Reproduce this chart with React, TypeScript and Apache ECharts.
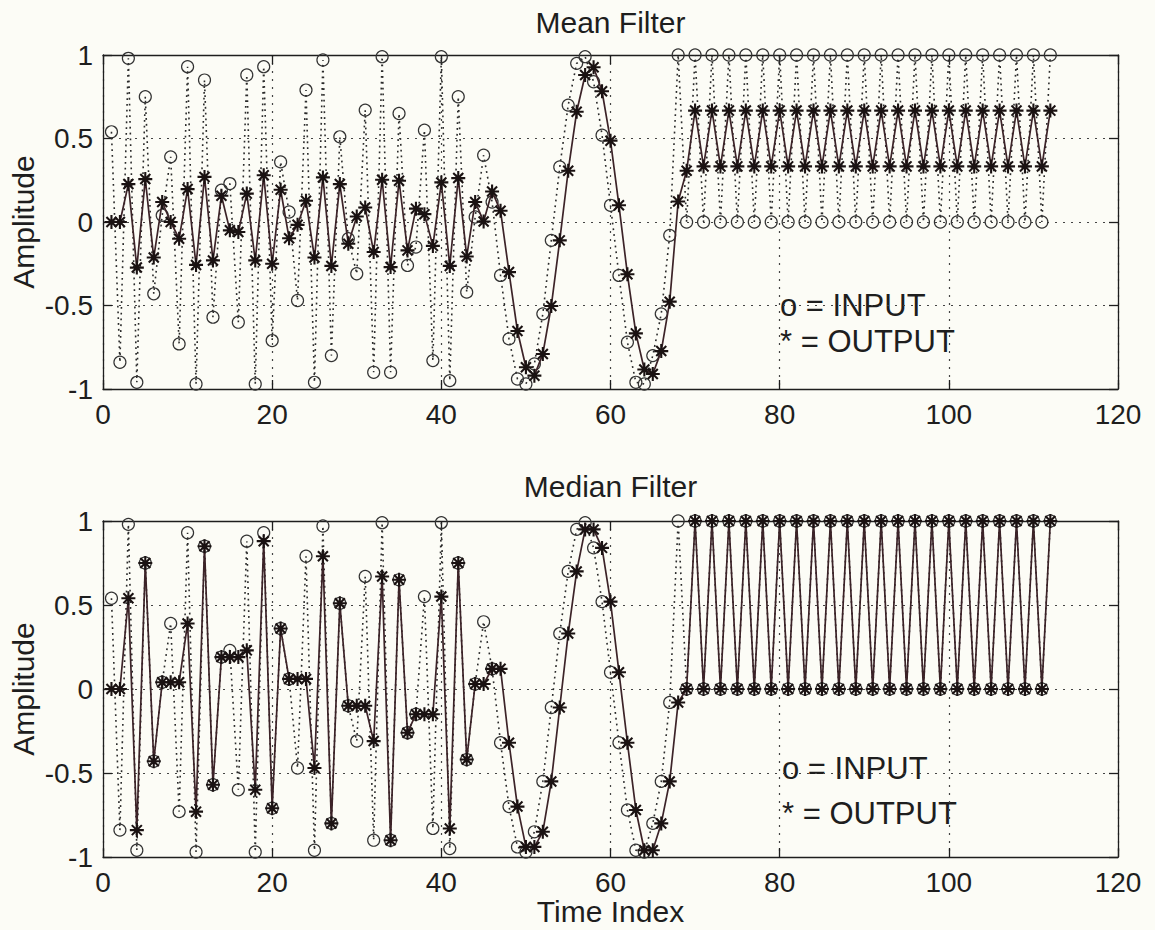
import React, { useEffect, useRef } from "react";
import * as echarts from "echarts";

// ---- data ----
const xTicks = [0, 20, 40, 60, 80, 100, 120];
const yTicks = [-1, -0.5, 0, 0.5, 1];

const inputSignal = [
  0.54, -0.84, 0.98, -0.96, 0.75, -0.43, 0.04, 0.39, -0.73, 0.93,
  -0.97, 0.85, -0.57, 0.19, 0.23, -0.6, 0.88, -0.97, 0.93, -0.71,
  0.36, 0.06, -0.47, 0.79, -0.96, 0.97, -0.8, 0.51, -0.1, -0.31,
  0.67, -0.9, 0.99, -0.9, 0.65, -0.26, -0.15, 0.55, -0.83, 0.99,
  -0.95, 0.75, -0.42, 0.03, 0.4, 0.12, -0.32, -0.7, -0.94, -0.97,
  -0.85, -0.55, -0.11, 0.33, 0.7, 0.95, 0.99, 0.84, 0.52, 0.1,
  -0.32, -0.72, -0.96, -0.97, -0.8, -0.55, -0.08, 1, 0, 1,
  0, 1, 0, 1, 0, 1, 0, 1, 0, 1,
  0, 1, 0, 1, 0, 1, 0, 1, 0, 1,
  0, 1, 0, 1, 0, 1, 0, 1, 0, 1,
  0, 1, 0, 1, 0, 1, 0, 1, 0, 1,
  0, 1,
];

const meanOutput = [
  0, 0, 0.227, -0.273, 0.257, -0.213, 0.12, 0, -0.1, 0.197,
  -0.257, 0.27, -0.23, 0.157, -0.05, -0.06, 0.17, -0.23, 0.28, -0.25,
  0.193, -0.097, -0.017, 0.127, -0.213, 0.267, -0.263, 0.227, -0.13, 0.033,
  0.087, -0.18, 0.253, -0.27, 0.247, -0.17, 0.08, 0.047, -0.143, 0.237,
  -0.263, 0.263, -0.207, 0.12, 0.003, 0.183, 0.067, -0.3, -0.653, -0.87,
  -0.92, -0.79, -0.503, -0.11, 0.307, 0.66, 0.88, 0.927, 0.783, 0.487,
  0.1, -0.313, -0.667, -0.883, -0.91, -0.773, -0.477, 0.123, 0.307, 0.667,
  0.333, 0.667, 0.333, 0.667, 0.333, 0.667, 0.333, 0.667, 0.333, 0.667,
  0.333, 0.667, 0.333, 0.667, 0.333, 0.667, 0.333, 0.667, 0.333, 0.667,
  0.333, 0.667, 0.333, 0.667, 0.333, 0.667, 0.333, 0.667, 0.333, 0.667,
  0.333, 0.667, 0.333, 0.667, 0.333, 0.667, 0.333, 0.667, 0.333, 0.667,
  0.333, 0.667,
];

const medianOutput = [
  0, 0, 0.54, -0.84, 0.75, -0.43, 0.04, 0.04, 0.04, 0.39,
  -0.73, 0.85, -0.57, 0.19, 0.19, 0.19, 0.23, -0.6, 0.88, -0.71,
  0.36, 0.06, 0.06, 0.06, -0.47, 0.79, -0.8, 0.51, -0.1, -0.1,
  -0.1, -0.31, 0.67, -0.9, 0.65, -0.26, -0.15, -0.15, -0.15, 0.55,
  -0.83, 0.75, -0.42, 0.03, 0.03, 0.12, 0.12, -0.32, -0.7, -0.94,
  -0.94, -0.85, -0.55, -0.11, 0.33, 0.7, 0.95, 0.95, 0.84, 0.52,
  0.1, -0.32, -0.72, -0.96, -0.96, -0.8, -0.55, -0.08, 0, 1,
  0, 1, 0, 1, 0, 1, 0, 1, 0, 1,
  0, 1, 0, 1, 0, 1, 0, 1, 0, 1,
  0, 1, 0, 1, 0, 1, 0, 1, 0, 1,
  0, 1, 0, 1, 0, 1, 0, 1, 0, 1,
  0, 1,
];

const titles = ["Mean Filter", "Median Filter"];
const legendTexts = ["o = INPUT", "* = OUTPUT"];

// ---- styling ----
const FONT = '"Liberation Sans", Arial, Helvetica, sans-serif';
const INK = "#1e1e1e";
const BG = "#fcfcf6";
const STAR =
  "path://M8.5 0H11.5V20H8.5Z M0 8.5H20V11.5H0Z M1.8 3.9L3.9 1.8L18.2 16.1L16.1 18.2Z M16.1 1.8L18.2 3.9L3.9 18.2L1.8 16.1Z";

const GRIDS = [
  { left: 103, top: 55, width: 1015, height: 334 },
  { left: 103, top: 521, width: 1015, height: 336 },
];

function toPts(arr: number[]) {
  return arr.map((v, i) => [i + 1, v]);
}

function xAxes(gi: number) {
  const base = {
    gridIndex: gi,
    type: "value",
    min: xTicks[0],
    max: xTicks[xTicks.length - 1],
    interval: xTicks[1] - xTicks[0],
    axisLine: { show: true, onZero: false, lineStyle: { color: INK, width: 1.3 } },
    axisTick: { show: true, inside: true, length: 9, lineStyle: { color: INK, width: 1.3 } },
  };
  return [
    {
      ...base,
      position: "bottom",
      axisLabel: { show: true, fontSize: 28, color: INK, fontFamily: FONT, margin: 11 },
      splitLine: { show: true, lineStyle: { type: [2, 6], color: "#444", width: 1.2 } },
    },
    { ...base, position: "top", axisLabel: { show: false }, splitLine: { show: false } },
  ];
}

function yAxes(gi: number) {
  const base = {
    gridIndex: gi,
    type: "value",
    min: yTicks[0],
    max: yTicks[yTicks.length - 1],
    interval: yTicks[1] - yTicks[0],
    axisLine: { show: true, onZero: false, lineStyle: { color: INK, width: 1.3 } },
    axisTick: { show: true, inside: true, length: 9, lineStyle: { color: INK, width: 1.3 } },
  };
  return [
    {
      ...base,
      position: "left",
      axisLabel: { show: true, fontSize: 28, color: INK, fontFamily: FONT, margin: 10 },
      splitLine: { show: true, lineStyle: { type: [2, 6], color: "#444", width: 1.2 } },
    },
    { ...base, position: "right", axisLabel: { show: false }, splitLine: { show: false } },
  ];
}

function seriesFor(gi: number, out: number[]) {
  return [
    {
      type: "line",
      xAxisIndex: gi * 2,
      yAxisIndex: gi * 2,
      data: toPts(inputSignal),
      symbol: "circle",
      symbolSize: 12,
      itemStyle: { color: "rgba(0,0,0,0)", borderColor: "#333", borderWidth: 1.2 },
      lineStyle: { color: "#2a2a2a", width: 1.6, type: [1.8, 4] },
      clip: false,
      silent: true,
      z: 2,
    },
    {
      type: "line",
      xAxisIndex: gi * 2,
      yAxisIndex: gi * 2,
      data: toPts(out),
      symbol: STAR,
      symbolSize: 14,
      itemStyle: { color: "#1a1212" },
      lineStyle: { color: "#3c2328", width: 1.7 },
      clip: false,
      silent: true,
      z: 3,
    },
  ];
}

function txt(text: string, x: number, y: number, size: number, align = "center", rotation = 0) {
  return {
    type: "text",
    x,
    y,
    rotation,
    silent: true,
    style: {
      text,
      fill: INK,
      font: `${size}px ${FONT}`,
      align,
      verticalAlign: "middle",
    },
  };
}

export default function App() {
  const ref = useRef<HTMLDivElement>(null);
  useEffect(() => {
    if (!ref.current) return;
    const chart = echarts.init(ref.current, null, { renderer: "svg" });
    const g0 = GRIDS[0];
    const g1 = GRIDS[1];
    const cx = g0.left + g0.width / 2;
    const option = {
      animation: false,
      backgroundColor: BG,
      grid: GRIDS,
      xAxis: [...xAxes(0), ...xAxes(1)],
      yAxis: [...yAxes(0), ...yAxes(1)],
      series: [...seriesFor(0, meanOutput), ...seriesFor(1, medianOutput)],
      graphic: [
        txt(titles[0], cx, g0.top - 33, 30),
        txt(titles[1], cx, g1.top - 35, 30),
        txt("Time Index", cx, g1.top + g1.height + 54, 30),
        txt("Amplitude", 23, g0.top + g0.height / 2, 30, "center", Math.PI / 2),
        txt("Amplitude", 23, g1.top + g1.height / 2, 30, "center", Math.PI / 2),
        txt(legendTexts[0], 780, 305, 31, "left"),
        txt(legendTexts[1], 780, 341, 31, "left"),
        txt(legendTexts[0], 782, 768, 31, "left"),
        txt(legendTexts[1], 782, 813, 31, "left"),
      ],
    };
    chart.setOption(option as any);
    return () => chart.dispose();
  }, []);
  return (
    <div
      ref={ref}
      style={{ position: "fixed", left: 0, top: 0, width: 1155, height: 930, background: BG }}
    />
  );
}
